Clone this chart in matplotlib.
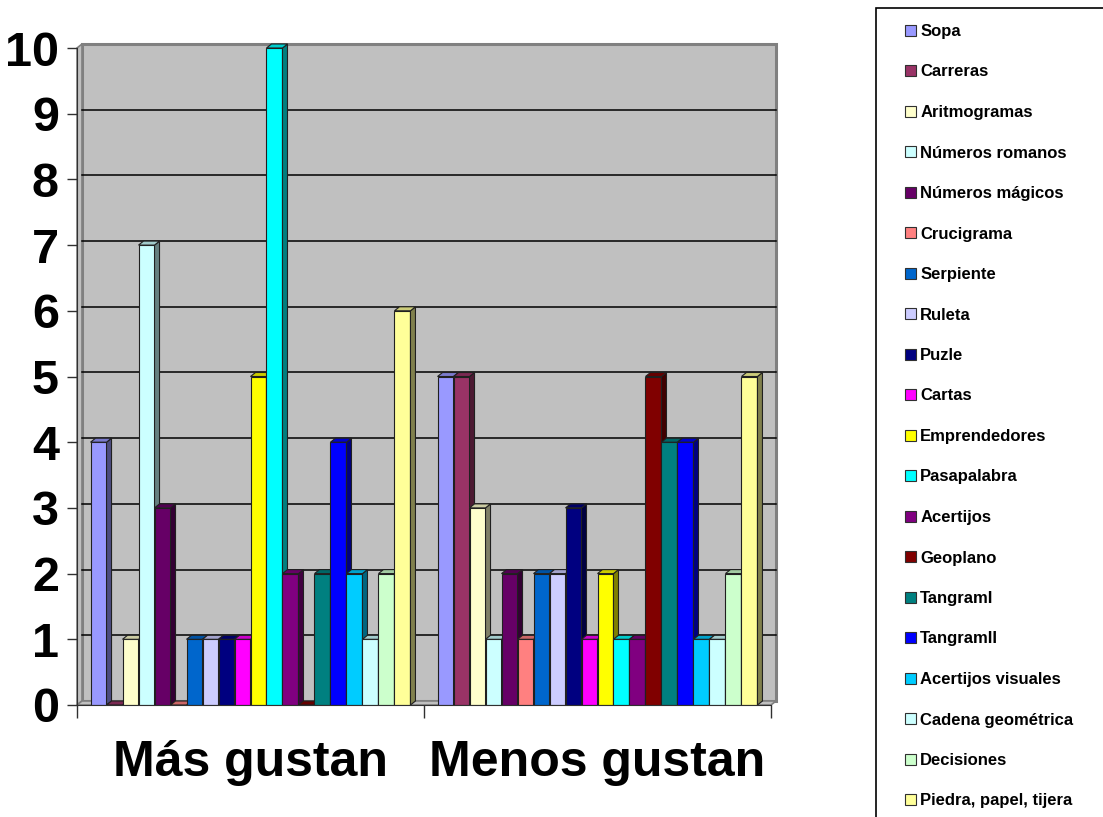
import numpy as np
import matplotlib
matplotlib.use('Agg')
import matplotlib.pyplot as plt
from matplotlib.patches import Patch, Rectangle, Polygon
from matplotlib.colors import to_rgb

plt.rcParams['font.family'] = ['Liberation Sans', 'DejaVu Sans']
plt.rcParams['font.weight'] = 'bold'

categories = ['Más gustan', 'Menos gustan']
series = ['Sopa', 'Carreras', 'Aritmogramas', 'Números romanos', 'Números mágicos',
          'Crucigrama', 'Serpiente', 'Ruleta', 'Puzle', 'Cartas', 'Emprendedores',
          'Pasapalabra', 'Acertijos', 'Geoplano', 'TangramI', 'TangramII',
          'Acertijos visuales', 'Cadena geométrica', 'Decisiones', 'Piedra, papel, tijera']
mas_gustan = [4, 0, 1, 7, 3, 0, 1, 1, 1, 1, 5, 10, 2, 0, 2, 4, 2, 1, 2, 6]
menos_gustan = [5, 5, 3, 1, 2, 1, 2, 2, 3, 1, 2, 1, 1, 5, 4, 4, 1, 1, 2, 5]
colors = ['#9999FF', '#993366', '#FFFFCC', '#CCFFFF', '#660066', '#FF8080',
          '#0066CC', '#CCCCFF', '#000080', '#FF00FF', '#FFFF00', '#00FFFF',
          '#800080', '#800000', '#008080', '#0000FF', '#00CCFF', '#CCFFFF',
          '#CCFFCC', '#FFFF99']
yticks = list(range(0, 11))

W, H = 1103, 817
fig = plt.figure(figsize=(W / 100, H / 100), dpi=100)
ax = fig.add_axes([77 / W, 112 / H, 694 / W, 657 / H])

nser = len(series)
group = 0.922
bw = group / nser
dx, dy = 0.0144, 0.061   # fake 3d depth in data units
wall = '#C0C0C0'
wall_edge = '#808080'


def shade(c, f):
    r, g, b = to_rgb(c)
    return (r * f, g * f, b * f)


# back wall, left wall and floor
ax.add_patch(Rectangle((-0.5 + dx, dy), 2.0, 10, facecolor=wall, edgecolor=wall_edge,
                       lw=2.2, zorder=0, clip_on=False))
ax.add_patch(Polygon([(-0.5, 0), (-0.5 + dx, dy), (-0.5 + dx, 10 + dy), (-0.5, 10)],
                     closed=True, facecolor=wall, edgecolor=wall_edge, lw=1.2,
                     zorder=0.5, clip_on=False))
ax.add_patch(Polygon([(-0.5, 0), (1.5, 0), (1.5 + dx, dy), (-0.5 + dx, dy)],
                     closed=True, facecolor=wall, edgecolor=wall_edge, lw=1.2,
                     zorder=0.5, clip_on=False))
for v in yticks[1:-1]:
    ax.plot([-0.5 + dx, 1.5 + dx], [v + dy, v + dy], color='black', lw=1.1,
            zorder=1, clip_on=False)

# bars, drawn left to right so each front hides the previous side face
z = 2
for ci, vals in enumerate([mas_gustan, menos_gustan]):
    for i, (v, c) in enumerate(zip(vals, colors)):
        x0 = ci - group / 2 + i * bw
        x1 = x0 + bw
        ax.bar(x0, v, width=bw, align='edge', color=c, edgecolor='#202020',
               lw=0.8, zorder=z)
        ax.add_patch(Polygon([(x1, 0), (x1 + dx, dy), (x1 + dx, v + dy), (x1, v)],
                             closed=True, facecolor=shade(c, 0.5), edgecolor='#202020',
                             lw=0.8, zorder=z + 0.1, clip_on=False))
        ax.add_patch(Polygon([(x0, v), (x1, v), (x1 + dx, v + dy), (x0 + dx, v + dy)],
                             closed=True, facecolor=shade(c, 0.8), edgecolor='#202020',
                             lw=0.8, zorder=z + 0.2, clip_on=False))
        z += 1

ax.set_xlim(-0.5, 1.5)
ax.set_ylim(0, 10)
ax.set_facecolor('none')
for s in ['top', 'right']:
    ax.spines[s].set_visible(False)
ax.spines['left'].set_color('#303030')
ax.spines['bottom'].set_color('#303030')
ax.spines['left'].set_bounds(0, 10)
ax.spines['left'].set_zorder(100)
ax.spines['bottom'].set_zorder(100)

ax.set_yticks(yticks)
ax.set_yticklabels([str(t) for t in yticks], fontsize=35, fontweight='bold')
ax.tick_params(axis='y', length=7, width=1, pad=6, color='#303030')
ax.set_xticks([0, 1])
ax.set_xticklabels(categories, fontsize=36, fontweight='bold')
ax.set_xticks([-0.5, 0.5, 1.5], minor=True)
ax.tick_params(axis='x', which='major', length=0, pad=25)
ax.tick_params(axis='x', which='minor', length=9, width=1, direction='out', color='#303030')

# legend box (runs off the right and bottom edges like the original)
fig.patches.append(Rectangle((876 / W, -0.05), 0.3, 1.05 - 8 / H, transform=fig.transFigure,
                             facecolor='white', edgecolor='black', lw=1.2, zorder=-1))
handles = [Patch(facecolor=c, edgecolor='#303030', lw=0.8) for c in colors]
fig.legend(handles, series, loc='upper left', bbox_to_anchor=(905 / W, 1 - 24 / H),
           frameon=False, prop={'weight': 'bold', 'size': 12},
           handlelength=0.66, handleheight=0.66, handletextpad=0.25,
           labelspacing=1.53, borderpad=0, borderaxespad=0)

fig.savefig('out.png', dpi=100)
